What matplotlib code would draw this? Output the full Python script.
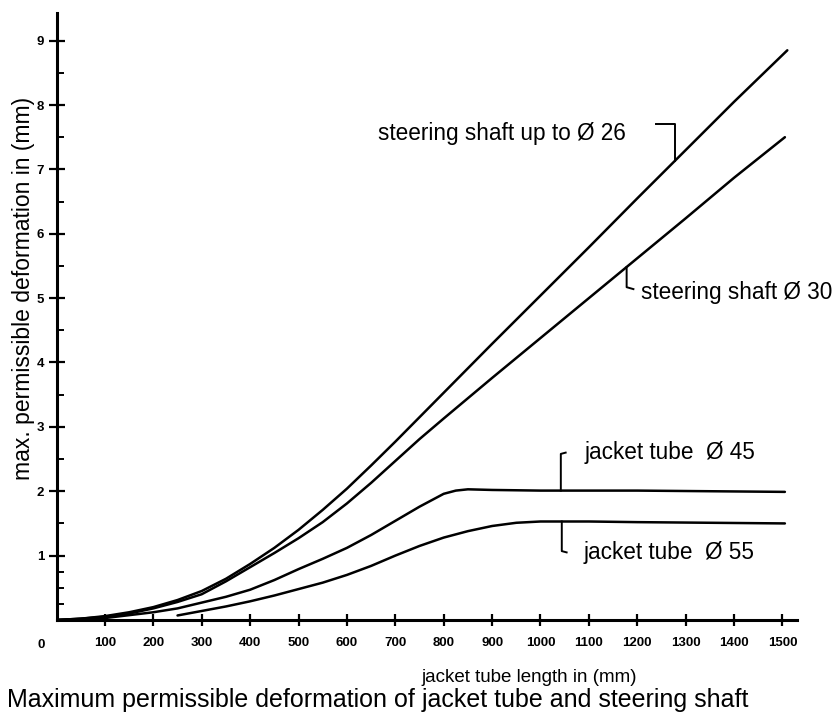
import numpy as np
import matplotlib
matplotlib.use("Agg")
import matplotlib.pyplot as plt
from matplotlib.ticker import FixedLocator

plt.rcParams['font.family'] = ['Liberation Sans', 'DejaVu Sans']

# values (length in mm, deformation in mm)
len_26 = [0, 50, 100, 150, 200, 250, 300, 350, 400, 450, 500, 550, 600, 650, 700,
          800, 900, 1000, 1100, 1200, 1300, 1400, 1510]
def_26 = [0, 0.02, 0.06, 0.12, 0.20, 0.31, 0.45, 0.64, 0.87, 1.12, 1.40, 1.71, 2.04, 2.40, 2.77,
          3.53, 4.29, 5.04, 5.79, 6.55, 7.30, 8.05, 8.85]

len_30 = [0, 50, 100, 150, 200, 250, 300, 350, 400, 450, 500, 550, 600, 650, 700, 750,
          800, 900, 1000, 1100, 1200, 1300, 1400, 1505]
def_30 = [0, 0.02, 0.05, 0.10, 0.18, 0.28, 0.40, 0.60, 0.82, 1.04, 1.27, 1.52, 1.81, 2.13, 2.47, 2.81,
          3.13, 3.76, 4.38, 5.00, 5.62, 6.24, 6.87, 7.50]

len_45 = [0, 100, 200, 250, 300, 350, 400, 450, 500, 550, 600, 650, 700, 750, 775, 800,
          825, 850, 900, 1000, 1200, 1505]
def_45 = [0, 0.03, 0.12, 0.18, 0.27, 0.36, 0.47, 0.62, 0.79, 0.95, 1.12, 1.32, 1.54, 1.76, 1.86, 1.96,
          2.01, 2.03, 2.02, 2.01, 2.01, 1.99]

len_55 = [250, 300, 350, 400, 450, 500, 550, 600, 650, 700, 750, 800, 850, 900, 950, 1000,
          1100, 1200, 1505]
def_55 = [0.07, 0.14, 0.21, 0.29, 0.38, 0.48, 0.58, 0.70, 0.84, 1.00, 1.15, 1.28, 1.38, 1.46, 1.51, 1.53,
          1.53, 1.52, 1.50]

x_ticks = list(range(100, 1600, 100))
y_ticks = [1, 2, 3, 4, 5, 6, 7, 8, 9]
y_minor = [0.25, 0.5, 0.75, 1.5, 2.5, 3.5, 4.5, 5.5, 6.5, 7.5, 8.5]

fig = plt.figure(figsize=(8.4, 7.16), dpi=100)
ax = fig.add_axes([0.0673, 0.1341, 0.8815, 0.8478])

lw = 1.8
for xs, ys in [(len_26, def_26), (len_30, def_30), (len_45, def_45), (len_55, def_55)]:
    ax.plot(xs, ys, color="black", lw=lw, solid_joinstyle="round", solid_capstyle="round")

ax.set_xlim(0, 1530)
ax.set_ylim(0, 9.43)
for s in ["top", "right"]:
    ax.spines[s].set_visible(False)
for s in ["left", "bottom"]:
    ax.spines[s].set_linewidth(2.2)

ax.xaxis.set_major_locator(FixedLocator(x_ticks))
ax.yaxis.set_major_locator(FixedLocator(y_ticks))
ax.yaxis.set_minor_locator(FixedLocator(y_minor))
ax.set_xticklabels([str(v) for v in x_ticks])
ax.set_yticklabels([str(v) for v in y_ticks])
ax.tick_params(axis="x", which="major", direction="inout", length=8, width=1.6, pad=8,
               labelsize=9.5)
ax.tick_params(axis="y", which="major", direction="inout", length=12, width=1.6, pad=3,
               labelsize=9.5)
ax.tick_params(axis="y", which="minor", direction="in", length=5, width=1.4)
for lab in ax.get_xticklabels() + ax.get_yticklabels():
    lab.set_fontweight("bold")
ax.text(-31, -0.39, "0", ha="center", va="center", fontsize=9.5, fontweight="bold", clip_on=False)

# leaders and curve labels
fs = 16.3
y26 = np.interp(1277, len_26, def_26)
ax.plot([1238, 1277, 1277], [7.71, 7.71, y26], color="black", lw=1.4)
ax.text(921, 7.55, "steering shaft up to Ø 26", ha="center", va="center", fontsize=fs)

y30 = np.interp(1178, len_30, def_30)
ax.plot([1178, 1178, 1192], [y30, 5.17, 5.14], color="black", lw=1.4)
ax.text(1208, 5.08, "steering shaft Ø 30", ha="left", va="center", fontsize=fs, clip_on=False)

y45 = np.interp(1042, len_45, def_45)
ax.plot([1042, 1042, 1052], [y45, 2.58, 2.60], color="black", lw=1.4)
ax.text(1092, 2.60, "jacket tube  Ø 45", ha="left", va="center", fontsize=fs)

y55 = np.interp(1044, len_55, def_55)
ax.plot([1044, 1044, 1054], [y55, 1.07, 1.05], color="black", lw=1.4)
ax.text(1090, 1.045, "jacket tube  Ø 55", ha="left", va="center", fontsize=fs)

fig.text(24 / 840, 1 - 288 / 716, "max. permissible deformation in (mm)", rotation=90,
         ha="center", va="center", fontsize=16.5)
fig.text(529 / 840, 1 - 677 / 716, "jacket tube length in (mm)", ha="center", va="center",
         fontsize=13.5)
fig.text(378 / 840, 1 - 700 / 716, "Maximum permissible deformation of jacket tube and steering shaft",
         ha="center", va="center", fontsize=18)

fig.savefig("out.png", dpi=100)
